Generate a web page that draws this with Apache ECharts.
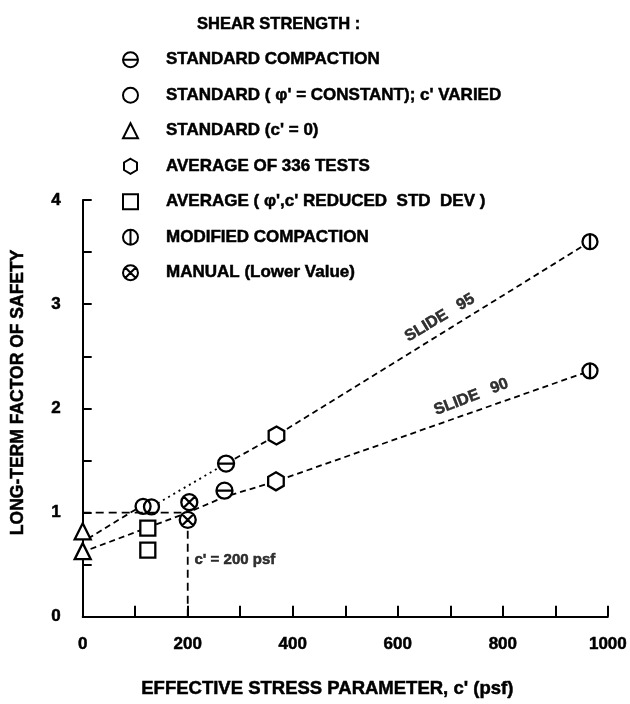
<!DOCTYPE html>
<html><head><meta charset="utf-8">
<script src="https://cdn.jsdelivr.net/npm/echarts@6/dist/echarts.min.js"></script>
<style>html,body{margin:0;padding:0;background:#fff}#c{width:630px;height:704px}</style>
</head><body><div id="c"></div>
<script>
// ---- tick labels ----
const xTickLabels = [0, 200, 400, 600, 800, 1000];
const yTickLabels = [0, 1, 2, 3, 4];

// ---- legend names ----
const nameStdCompaction = 'STANDARD COMPACTION';
const nameStdConst = "STANDARD ( \u03C6' = CONSTANT); c' VARIED";
const nameStdC0 = "STANDARD (c' = 0)";
const nameAvg336 = 'AVERAGE OF 336 TESTS';
const nameAvgReduced = "AVERAGE ( \u03C6',c' REDUCED  STD  DEV )";
const nameModified = 'MODIFIED COMPACTION';
const nameManual = 'MANUAL (Lower Value)';

// ---- data points [c' (psf), factor of safety] ----
const stdCompaction = [[273, 1.47], [270, 1.21]];
const stdConst = [[115, 1.06], [131, 1.055]];
const stdC0 = [[0, 0.82], [0, 0.63]];
const avg336 = [[369, 1.74], [368, 1.30]];
const avgReduced = [[124, 0.85], [124, 0.64]];
const modified = [[966, 3.60], [966, 2.36]];
const manual = [[203, 1.10], [200, 0.93]];

// ---- trend lines ----
const slide95a = [[10, 0.75], [101, 1.03]];
const slide95dotted = [[143, 1.09], [273, 1.47]];
const slide95b = [[273, 1.47], [369, 1.74], [966, 3.60]];
const slide90 = [[15, 0.65], [200, 1.0], [270, 1.15], [368, 1.30], [966, 2.36]];
const refHorizontal = [[0, 1.0], [188, 1.0]];
const refVertical = [[200, 0], [200, 0.86]];

// ---- annotations ----
const slide95Label = [[680, 2.87]];
const slide90Label = [[740, 2.11]];
const c200Label = [[212, 0.55]];

const FONT = '"Liberation Sans", Arial, Helvetica, sans-serif';
const HEAVY = { color: '#000', fontFamily: FONT, fontWeight: 'bold', textBorderColor: '#000', textBorderWidth: 0.5 };
const sym = {
  theta: 'path://M0,-10A10,10,0,1,1,0,10A10,10,0,1,1,0,-10ZM-10,0L10,0',
  circle: 'circle',
  tri: 'triangle',
  hex: 'path://M0,-10L8.66,-5L8.66,5L0,10L-8.66,5L-8.66,-5Z',
  sq: 'rect',
  mod: 'path://M0,-10A10,10,0,1,1,0,10A10,10,0,1,1,0,-10ZM0,-10L0,10',
  man: 'path://M0,-10A10,10,0,1,1,0,10A10,10,0,1,1,0,-10ZM-7.07,-7.07L7.07,7.07M-7.07,7.07L7.07,-7.07'
};

function pts(name, data, symbol, size, fill) {
  return {
    type: 'scatter', name: name, data: data, symbol: symbol, symbolSize: size,
    symbolKeepAspect: true, z: 5,
    itemStyle: { color: fill || '#fff', borderColor: '#000', borderWidth: 2.3, opacity: 1 },
    emphasis: { disabled: true }
  };
}
function line(data, dash, width) {
  return {
    type: 'line', data: data, symbol: 'none', z: 2, silent: true,
    lineStyle: { color: '#000', width: width || 1.8, type: dash },
    emphasis: { disabled: true }
  };
}
function note(data, text, rot, pos, size) {
  return {
    type: 'scatter', data: data, symbolSize: 1, silent: true, z: 6,
    itemStyle: { color: 'rgba(0,0,0,0)' },
    label: Object.assign({ show: true, formatter: text, rotate: rot, position: pos || 'inside', distance: 0,
      fontSize: size || 16 }, HEAVY)
  };
}

const chart = echarts.init(document.getElementById('c'));
chart.setOption({
  animation: false,
  backgroundColor: '#fff',
  title: {
    text: 'SHEAR STRENGTH :', left: 192, top: 11,
    textStyle: Object.assign({ fontSize: 16.5 }, HEAVY)
  },
  legend: {
    orient: 'vertical', left: 117, top: 46, itemWidth: 15, itemHeight: 15, itemGap: 18,
    data: [nameStdCompaction, nameStdConst, nameStdC0, nameAvg336, nameAvgReduced, nameModified, nameManual],
    selectedMode: false,
    textStyle: Object.assign({ fontSize: 17, padding: [0, 0, 0, 23] }, HEAVY)
  },
  grid: { left: 82.7, right: 20, top: 200, bottom: 83, containLabel: false },
  xAxis: {
    type: 'value', min: 0, max: 1000, interval: 100,
    name: "EFFECTIVE STRESS PARAMETER, c' (psf)", nameLocation: 'middle', nameGap: 63,
    nameTextStyle: Object.assign({ fontSize: 18.5, padding: [0, 36, 0, 0] }, HEAVY),
    axisLine: { show: true, lineStyle: { color: '#000', width: 2 } },
    axisTick: { show: true, inside: true, length: 11, lineStyle: { color: '#000', width: 2 } },
    axisLabel: Object.assign({
      margin: 19, fontSize: 17,
      formatter: v => xTickLabels.indexOf(v) >= 0 ? String(v) : ''
    }, HEAVY),
    splitLine: { show: false }
  },
  yAxis: {
    type: 'value', min: 0, max: 4, interval: 0.5,
    name: 'LONG-TERM FACTOR OF SAFETY', nameLocation: 'middle', nameGap: 56, nameRotate: 90,
    nameTextStyle: Object.assign({ fontSize: 17.5, padding: [0, 0, 0, 32] }, HEAVY),
    axisLine: { show: true, lineStyle: { color: '#000', width: 2 } },
    axisTick: { show: true, inside: true, length: 9, lineStyle: { color: '#000', width: 2 } },
    axisLabel: Object.assign({
      margin: 22, fontSize: 17, padding: [0, 0, 22, 0],
      formatter: v => yTickLabels.indexOf(v) >= 0 ? String(v) : ''
    }, HEAVY),
    splitLine: { show: false }
  },
  series: [
    line(slide95a, [6, 4]),
    line(slide95dotted, [2, 4]),
    line(slide95b, [6, 4]),
    line(slide90, [6, 4]),
    line(refHorizontal, [8, 5]),
    line(refVertical, [8, 5]),
    pts(nameStdCompaction, stdCompaction, sym.theta, 16),
    pts(nameStdConst, stdConst, sym.circle, 15, 'rgba(255,255,255,0)'),
    pts(nameStdC0, stdC0, sym.tri, 16),
    pts(nameAvg336, avg336, sym.hex, 18),
    pts(nameAvgReduced, avgReduced, sym.sq, 15),
    pts(nameModified, modified, sym.mod, 15),
    pts(nameManual, manual, sym.man, 16),
    note(slide95Label, 'SLIDE   95', 31, 'inside', 16),
    note(slide90Label, 'SLIDE   90', 21, 'inside', 16),
    note(c200Label, "c' = 200 psf", 0, 'right', 15)
  ]
});
</script>
</body></html>
